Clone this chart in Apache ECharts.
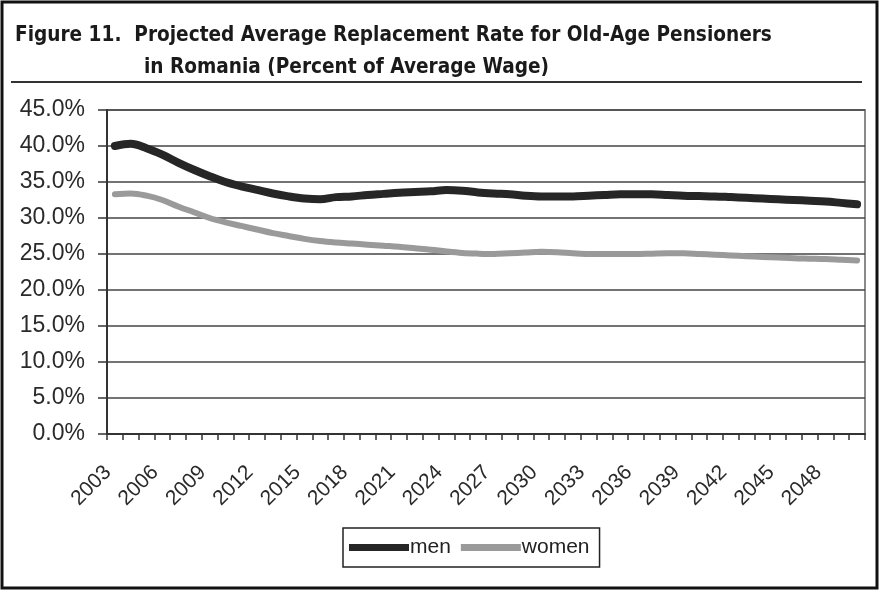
<!DOCTYPE html>
<html>
<head>
<meta charset="utf-8">
<script src="https://cdn.jsdelivr.net/npm/echarts@6/dist/echarts.min.js"></script>
<style>
  html, body { margin: 0; padding: 0; background: #fff; }
  #chart { width: 880px; height: 591px; }
</style>
</head>
<body>
<div id="chart"></div>
<script>
// Projected average replacement rate (percent of average wage), 2003-2050
const years = [];
for (let y = 2003; y <= 2050; y++) years.push(String(y));

const men = [
  40.0, 40.3, 39.7, 38.8, 37.7, 36.7, 35.8, 35.0, 34.4, 33.9,
  33.4, 33.0, 32.7, 32.6, 32.9, 33.0, 33.2, 33.35, 33.5, 33.6,
  33.7, 33.9, 33.8, 33.55, 33.4, 33.3, 33.1, 33.0, 33.0, 33.0,
  33.1, 33.2, 33.3, 33.3, 33.3, 33.2, 33.1, 33.05, 33.0, 32.9,
  32.8, 32.7, 32.6, 32.5, 32.4, 32.3, 32.1, 31.9
];

const women = [
  33.3, 33.4, 33.1, 32.5, 31.6, 30.8, 30.0, 29.4, 28.9, 28.4,
  27.9, 27.5, 27.1, 26.8, 26.6, 26.45, 26.3, 26.15, 26.0, 25.8,
  25.6, 25.35, 25.15, 25.05, 25.0, 25.1, 25.2, 25.3, 25.25, 25.1,
  25.0, 25.0, 25.0, 25.0, 25.05, 25.1, 25.1, 25.0, 24.9, 24.8,
  24.7, 24.6, 24.5, 24.4, 24.35, 24.3, 24.2, 24.1
];

const titleLine1 = 'Figure 11.  Projected Average Replacement Rate for Old-Age Pensioners';
const titleLine2 = 'in Romania (Percent of Average Wage)';

const titleFont = '"Liberation Sans Narrow", "DejaVu Sans Condensed", "Roboto Condensed", sans-serif';
const bodyFont = '"Liberation Sans", Arial, sans-serif';

const chart = echarts.init(document.getElementById('chart'), null, { renderer: 'canvas' });

chart.setOption({
  backgroundColor: '#ffffff',
  animation: false,
  title: [
    {
      text: titleLine1,
      left: 10, top: 20,
      textStyle: { fontFamily: titleFont, fontWeight: 'bold', fontSize: 20.6, color: '#1a1a1a' }
    },
    {
      text: titleLine2,
      left: 139, top: 52,
      textStyle: { fontFamily: titleFont, fontWeight: 'bold', fontSize: 20.6, color: '#1a1a1a' }
    }
  ],
  graphic: [
    {
      type: 'rect',
      shape: { x: 2, y: 2, width: 875, height: 586 },
      style: { fill: 'none', stroke: '#111', lineWidth: 3 },
      silent: true
    },
    {
      type: 'line',
      shape: { x1: 11, y1: 82, x2: 862, y2: 82 },
      style: { stroke: '#333', lineWidth: 2 },
      silent: true
    }
  ],
  legend: {
    data: ['men', 'women'],
    left: 343, top: 528,
    width: 262,
    padding: [9, 10, 9, 6],
    itemWidth: 60, itemHeight: 7,
    itemGap: 10,
    borderColor: '#222', borderWidth: 1.5,
    textStyle: { fontFamily: bodyFont, fontSize: 21, color: '#222', padding: [0, 0, 0, -4] },
    icon: 'rect'
  },
  grid: {
    left: 107, right: 15, top: 110, bottom: 157,
    show: true, borderColor: '#8a8a8a', borderWidth: 2, backgroundColor: '#fff'
  },
  xAxis: {
    type: 'category',
    data: years,
    boundaryGap: true,
    axisLine: { lineStyle: { color: '#333', width: 2 } },
    axisTick: { show: true, interval: 0, length: 6, lineStyle: { color: '#333', width: 1.5 } },
    axisLabel: {
      interval: 2, rotate: 45, margin: 28,
      padding: [0, 10, 0, 0],
      fontFamily: bodyFont, fontSize: 21, color: '#2a2a2a'
    },
    splitLine: { show: false }
  },
  yAxis: {
    type: 'value',
    min: 0, max: 45, interval: 5,
    axisLine: { show: true, lineStyle: { color: '#333', width: 2 } },
    axisTick: { show: true, length: 9, lineStyle: { color: '#333', width: 1.5 } },
    axisLabel: {
      margin: 22,
      fontFamily: bodyFont, fontSize: 23, color: '#2a2a2a',
      formatter: v => v.toFixed(1) + '%'
    },
    splitLine: { show: true, lineStyle: { color: '#444', width: 1.5 } }
  },
  series: [
    {
      name: 'men', type: 'line', data: men,
      smooth: 0.35, showSymbol: false,
      lineStyle: { color: '#262626', width: 8, cap: 'round', join: 'round' },
      itemStyle: { color: '#262626' },
      z: 3
    },
    {
      name: 'women', type: 'line', data: women,
      smooth: 0.35, showSymbol: false,
      lineStyle: { color: '#9a9a9a', width: 6, cap: 'round', join: 'round' },
      itemStyle: { color: '#9a9a9a' },
      z: 2
    }
  ]
});
</script>
</body>
</html>
